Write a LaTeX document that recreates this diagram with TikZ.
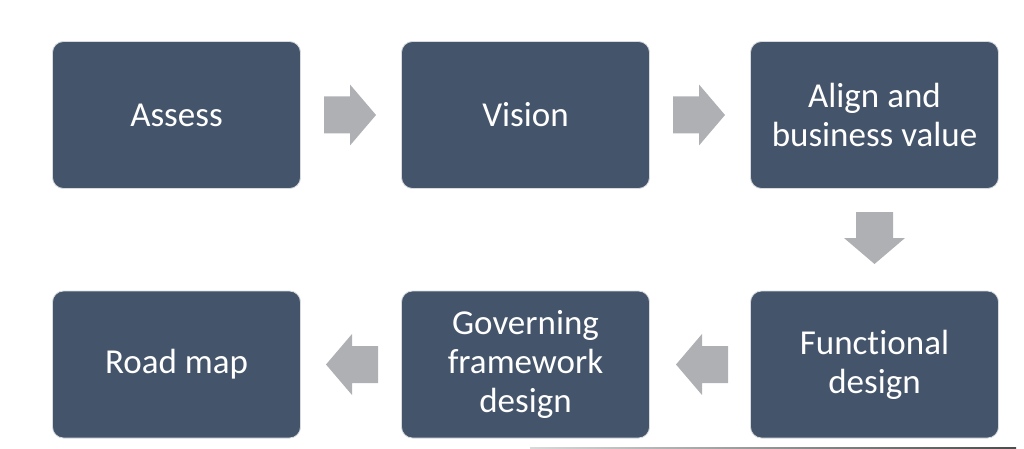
\documentclass[tikz,border=0pt]{standalone}
\usepackage{fontspec}
\setmainfont[RawFeature={-liga;-clig;-calt;-dlig}]{Carlito}
\definecolor{boxfill}{RGB}{68,84,106}
\definecolor{boxline}{RGB}{215,218,222}
\definecolor{arrowgray}{RGB}{174,176,179}
\tikzset{
  stepbox/.style={draw=boxline, line width=0.8pt, fill=boxfill, rounded corners=11pt,
    minimum width=248pt, minimum height=147pt, inner sep=0pt, align=center,
    text=white, font=\fontsize{35}{39}\selectfont},
  blockarrow/.pic={\fill[arrowgray] (-26,-18.5) -- (0,-18.5) -- (0,-30.5) -- (26,0)
    -- (0,30.5) -- (0,18.5) -- (-26,18.5) -- cycle;}
}
\begin{document}
\begin{tikzpicture}[x=1pt,y=-1pt]
\useasboundingbox (0,0) rectangle (1024,449);
\node[stepbox] (assess) at (176.5,115) {Assess};
\node[stepbox] (vision) at (525.5,115) {Vision};
\node[stepbox] (align) at (874.5,115) {Align and\\business value};
\node[stepbox] (func) at (874.5,364.5) {Funct\kern0.3pt ional\\design};
\node[stepbox] (gov) at (525.5,364.5) {Governing\\framework\\design};
\node[stepbox] (road) at (176.5,364.5) {Road map};
\pic at (350,115) {blockarrow};
\pic at (699,115) {blockarrow};
\pic[rotate=-90] at (874.5,238) {blockarrow};
\pic[rotate=180] at (702,364.5) {blockarrow};
\pic[rotate=180] at (352,364.5) {blockarrow};
\shade[left color=black!15, right color=black!70] (530,447) rectangle (1016,449);
\end{tikzpicture}
\end{document}
